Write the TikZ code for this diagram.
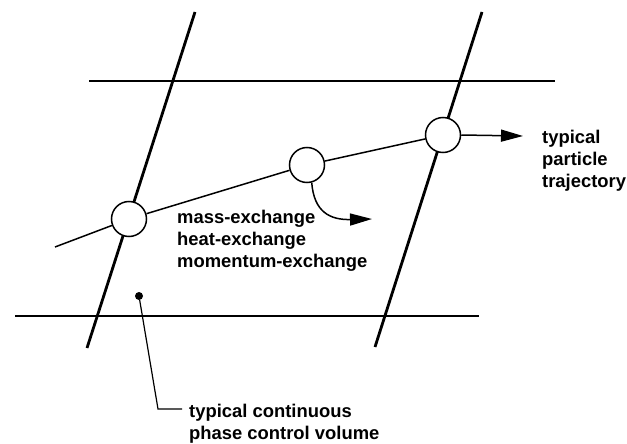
\documentclass[tikz,border=0pt]{standalone}
\usepackage{fontspec}
\setmainfont{Liberation Sans}
\usetikzlibrary{arrows.meta}
\begin{document}
\begin{tikzpicture}[x=1pt,y=-1pt,
  grid/.style={line width=2.8pt},
  traj/.style={line width=1.5pt},
  part/.style={circle,draw,line width=1.5pt,fill=white,minimum size=35pt,inner sep=0pt},
  lbl/.style={font=\fontsize{18.4}{22}\selectfont\bfseries,align=left,anchor=north west,inner sep=0pt},
  tip/.style={-{Triangle[length=22pt,width=12pt]}}
]
\useasboundingbox (0,0) rectangle (627,444);
% grid lines
\coordinate (l1) at (195,12);  \coordinate (l2) at (87,348);
\coordinate (r1) at (482,12);  \coordinate (r2) at (375,347);
\coordinate (t1) at (89,81);   \coordinate (t2) at (555,81);
\coordinate (b1) at (15,316);  \coordinate (b2) at (479,316);
\draw[grid] (l1) -- (l2);
\draw[grid] (r1) -- (r2);
\draw[grid] (t1) -- (t2);
\draw[grid] (b1) -- (b2);
% particles
\node[part] (c1) at (129,219) {};
\node[part] (c2) at (307,165) {};
\node[part] (c3) at (443,135) {};
\coordinate (s0) at (55,247);
\draw[traj] (s0) -- (c1) -- (c2) -- (c3);
% arrows
\coordinate (a3) at (523,136);
\draw[traj,tip] (c3.east) -- (a3);
\coordinate (a2) at (372,219);
\draw[traj,tip] (c2.-75) .. controls (314,212) and (330,220) .. (a2);
% labels
\node[lbl] (trajlbl) at (542,130) {typical\\particle\\trajectory};
\node[lbl] (exlbl) at (177,210) {mass-exchange\\heat-exchange\\momentum-exchange};
\node[lbl] (cvlbl) at (189,404) {typical continuous\\phase control volume};
% control volume marker
\node[circle,fill,minimum size=8pt,inner sep=0pt] (dot) at (139,296) {};
\coordinate (k) at (158,409);
\coordinate (kend) at (182,409);
\draw[line width=1.2pt] (dot) -- (k) -- (kend);
\end{tikzpicture}
\end{document}
